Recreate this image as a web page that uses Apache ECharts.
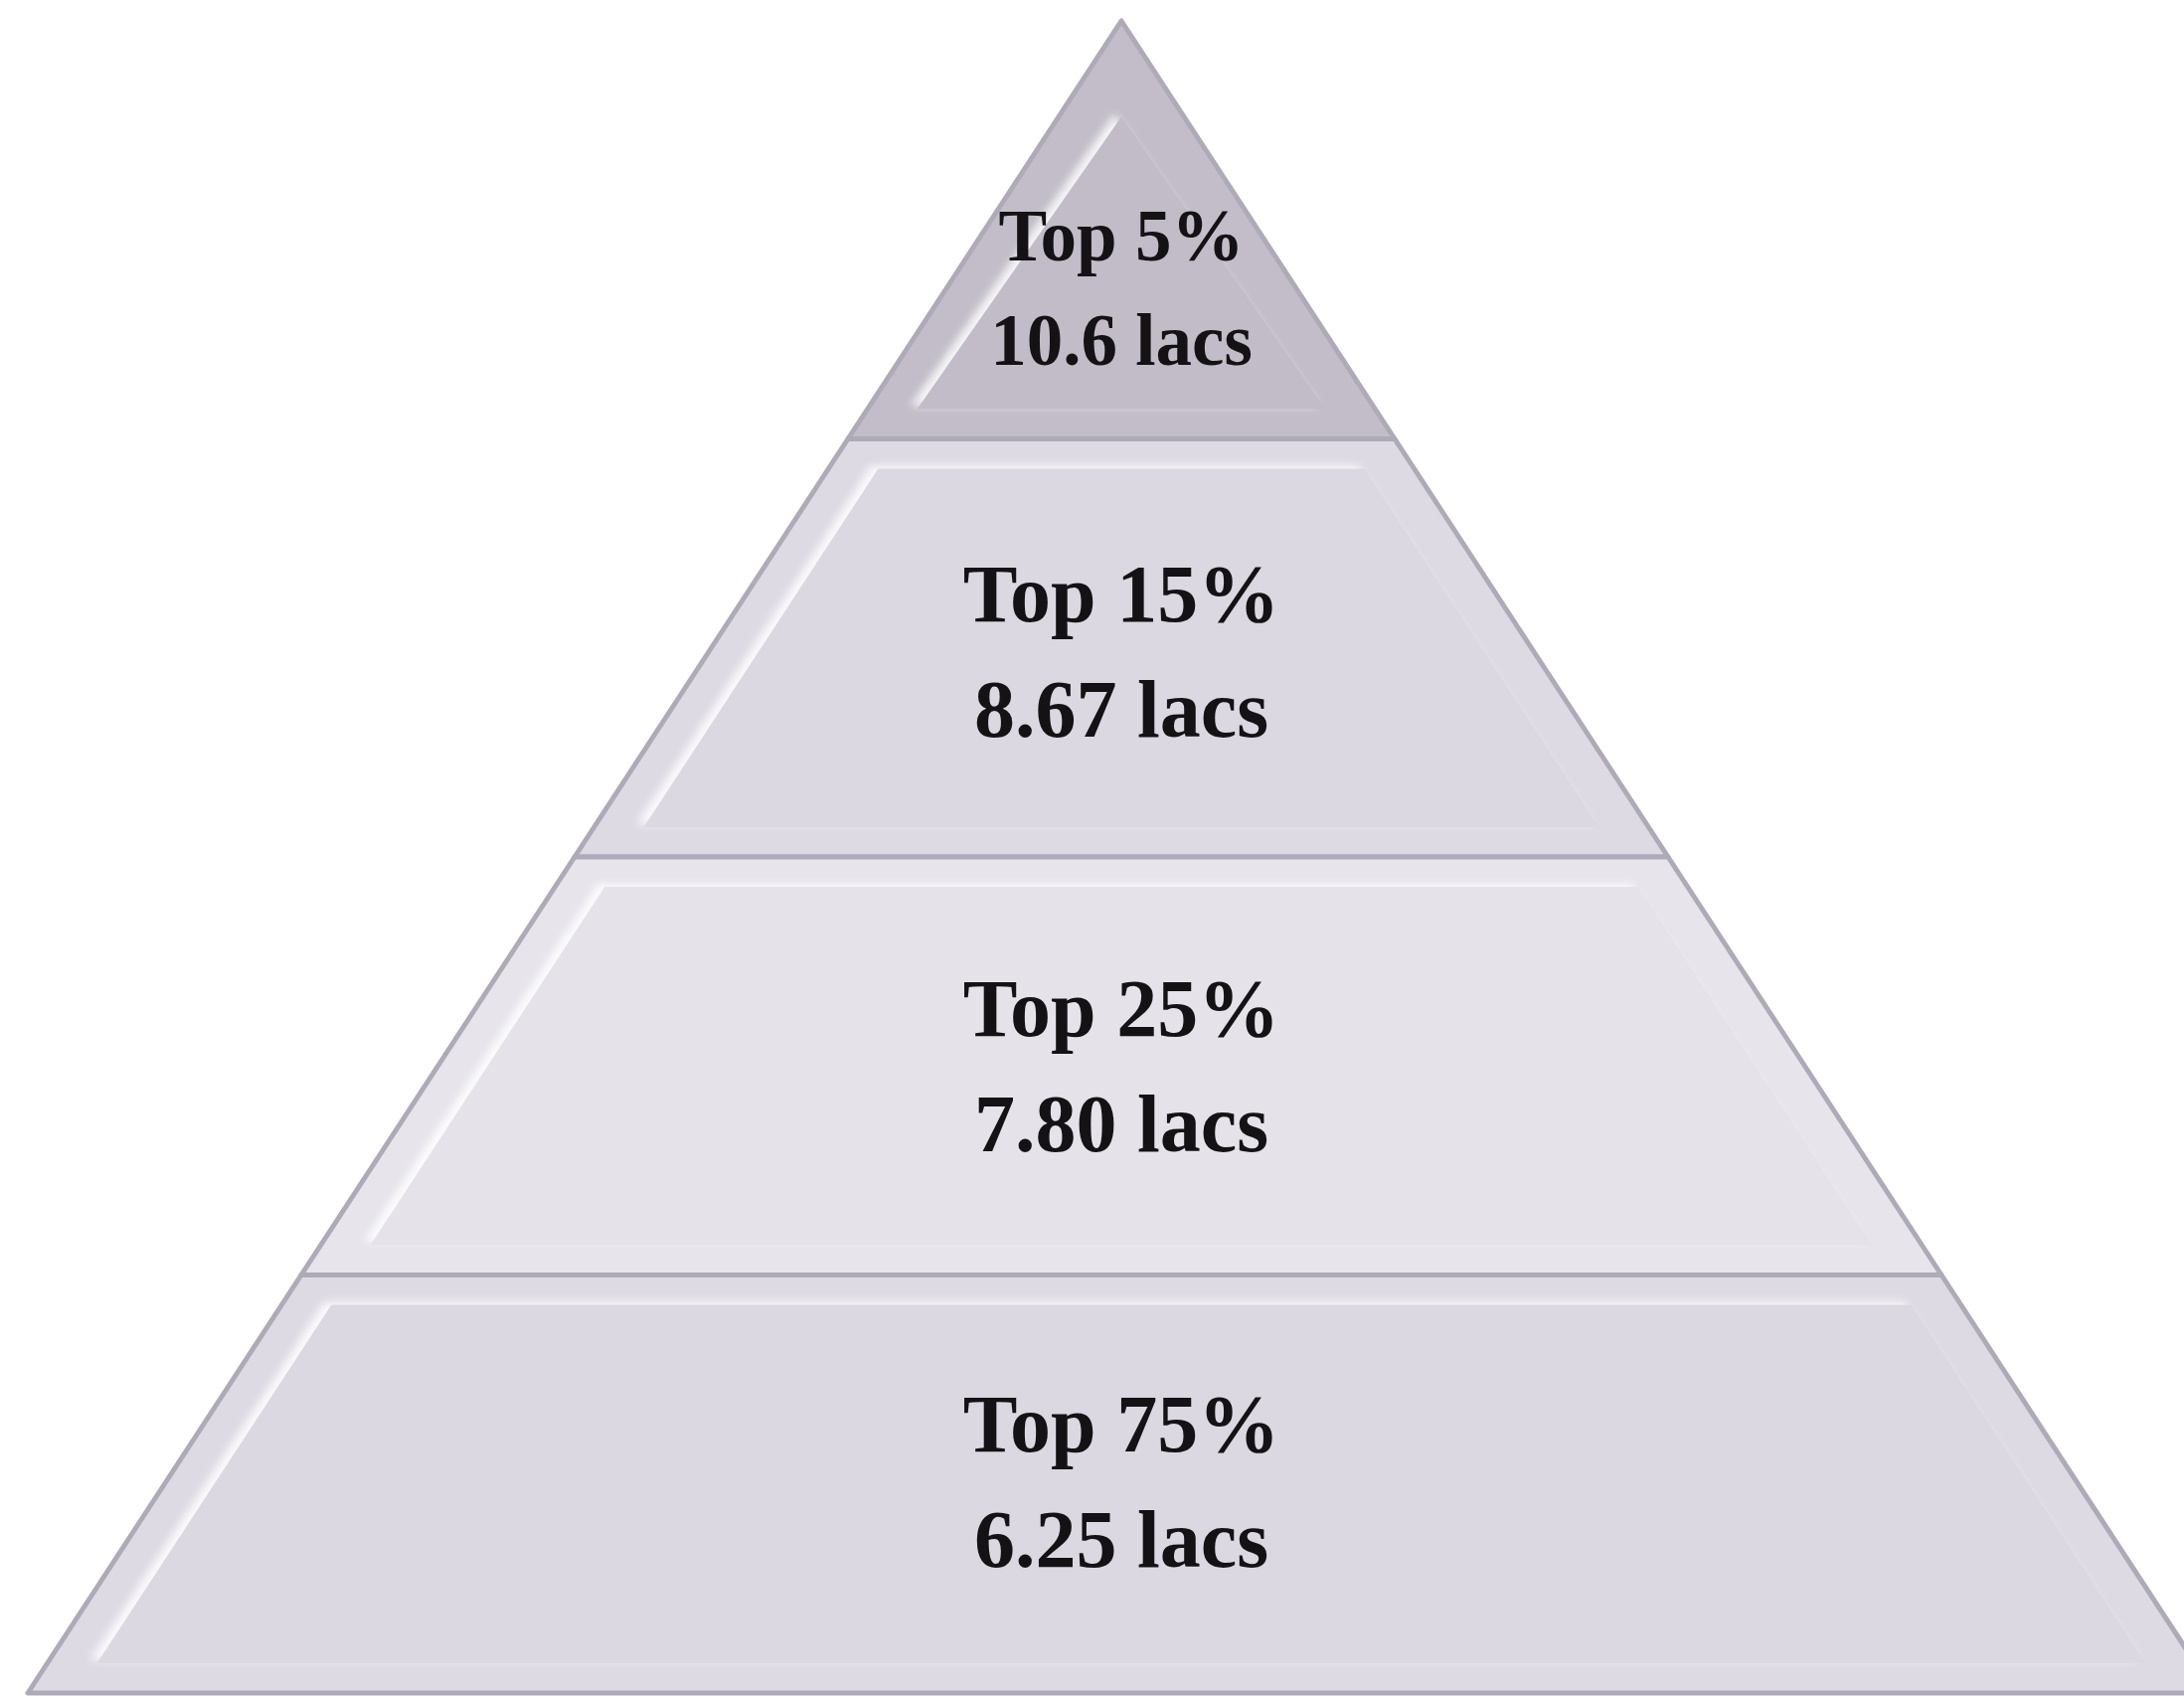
<!DOCTYPE html>
<html>
<head>
<meta charset="utf-8">
<script src="https://cdn.jsdelivr.net/npm/echarts@6/dist/echarts.min.js"></script>
<style>
html,body{margin:0;padding:0;background:#ffffff;}
#chart{width:2197px;height:1707px;}
</style>
</head>
<body>
<div id="chart"></div>
<script>
// Pyramid tiers, from apex to base
const categories = ['Top 5%', 'Top 15%', 'Top 25%', 'Top 75%'];
const salaries = [10.6, 8.67, 7.80, 6.25];      // lacs
const tierRank = [1, 2, 3, 4];                  // width of each tier's base (pyramid rank)
const tierColors = ['#c1bcc7', '#dcd8e2', '#e5e2ea', '#dcd8e2'];
const labelDrop = [128, 20, 14, 8];             // label vertical nudge (style)

// layout of the pyramid (pixels)
const L = 28, T = 21, W = 2200, H = 1682;
const N = tierRank.length;
const cx = L + W / 2;
const halfAt = y => (W / 2) * (y - T) / H;
const tierH = H / N;

const chart = echarts.init(document.getElementById('chart'), null, {renderer: 'canvas'});

const baseSeries = {
  type: 'funnel',
  sort: 'ascending',
  left: L, top: T, width: W, height: H,
  min: 0, max: N,
  minSize: '0%', maxSize: '100%',
  gap: 0,
  funnelAlign: 'center',
  labelLine: {show: false},
  emphasis: {disabled: true},
  animation: false
};

const series = [];

// outer tiers
series.push(Object.assign({}, baseSeries, {
  z: 1,
  silent: true,
  label: {show: false},
  itemStyle: {borderColor: '#afaab7', borderWidth: 5},
  data: categories.map((c, i) => ({
    name: c, value: tierRank[i],
    itemStyle: {color: echarts.color.lift(tierColors[i], -0.01)}
  }))
}));

// inner bevel faces
const insetV = 30, insetH = 50;
categories.forEach((c, i) => {
  const y0 = T + i * tierH, y1 = y0 + tierH;
  let yt = y0 + insetV;
  const yb = y1 - insetV;
  let tw;
  if (i === 0) {
    yt = T + insetH * H / (W / 2) + 20;
    tw = 0;
  } else {
    tw = 2 * (halfAt(yt) - insetH);
  }
  const bw = 2 * (halfAt(yb) - insetH);
  series.push({
    type: 'funnel',
    z: 2,
    silent: true,
    sort: 'ascending',
    left: cx - bw / 2, top: yt, width: bw, height: yb - yt,
    min: 0, max: 1, minSize: tw, maxSize: bw, gap: 0,
    label: {show: false}, labelLine: {show: false},
    emphasis: {disabled: true},
    itemStyle: {
      color: tierColors[i],
      borderWidth: 0,
      shadowColor: 'rgba(255,255,255,0.85)',
      shadowBlur: 8,
      shadowOffsetX: -7,
      shadowOffsetY: -3
    },
    data: [{name: c, value: 1}]
  });
});

// labels
series.push(Object.assign({}, baseSeries, {
  z: 3,
  silent: true,
  itemStyle: {color: 'rgba(0,0,0,0)', borderWidth: 0},
  label: {
    show: true,
    position: 'inside',
    fontFamily: 'Liberation Serif',
    fontWeight: 'bold',
    fontSize: 82,
    lineHeight: 116,
    color: '#141214',
    formatter: p => '{gap' + p.dataIndex + '| }\n' +
      p.name + '\n' + salaries[p.dataIndex].toPrecision(3) + ' lacs',
    rich: Object.fromEntries(labelDrop.map((d, i) =>
      ['gap' + i, {fontSize: 4, height: d, lineHeight: d}]))
  },
  data: categories.map((c, i) => ({
    name: c, value: tierRank[i],
    label: i === 0 ? {fontSize: 73, lineHeight: 105} : {}
  }))
}));

chart.setOption({
  backgroundColor: '#ffffff',
  animation: false,
  series: series
});
</script>
</body>
</html>
